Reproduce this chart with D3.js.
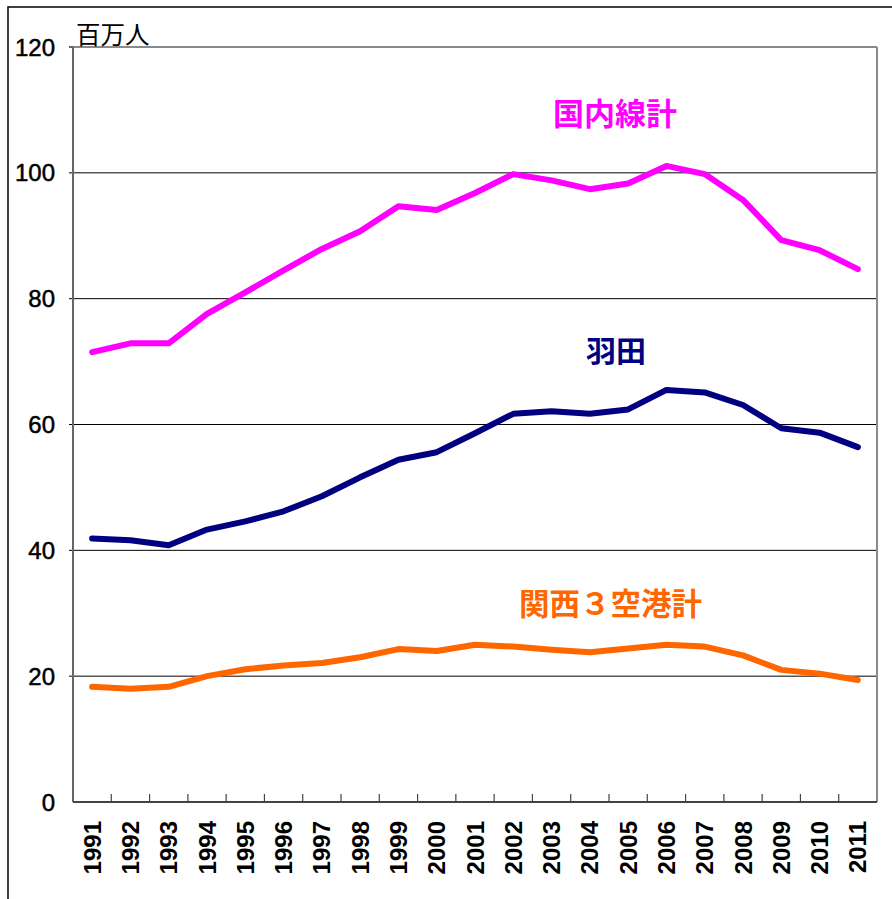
<!DOCTYPE html>
<html><head><meta charset="utf-8">
<script src="https://cdn.jsdelivr.net/npm/d3@7/dist/d3.min.js"></script>
<style>
body{margin:0;background:#fff;}
svg{display:block;}
</style></head>
<body>
<svg id="c" width="892" height="899"></svg>
<script>
const years = ["1991","1992","1993","1994","1995","1996","1997","1998","1999","2000","2001","2002","2003","2004","2005","2006","2007","2008","2009","2010","2011"];
const domestic = [71.5,72.9,72.9,77.6,81.0,84.5,87.9,90.7,94.7,94.1,96.8,99.8,98.8,97.4,98.3,101.1,99.8,95.7,89.3,87.7,84.7];
const haneda = [41.9,41.6,40.8,43.3,44.6,46.2,48.6,51.6,54.4,55.6,58.6,61.7,62.1,61.7,62.4,65.5,65.1,63.1,59.4,58.7,56.4];
const kansai = [18.3,18.0,18.3,20.0,21.1,21.7,22.1,23.0,24.3,24.0,25.0,24.7,24.2,23.8,24.4,25.0,24.7,23.3,21.0,20.4,19.4];
const yTicks = [0,20,40,60,80,100,120];
const unitLabel = "百万人";
const seriesLabels = ["国内線計","羽田","関西３空港計"];

const svg = d3.select("#c");
const L=73, R=877, T=47, B=802;
const x = d3.scaleBand().domain(years).range([L,R]);
const y = d3.scaleLinear().domain([0,120]).range([B,T]);

// outer border
svg.append("rect").attr("x",8).attr("y",7).attr("width",1000).attr("height",1000)
  .attr("fill","none").attr("stroke","#111").attr("stroke-width",1.6);

// gridlines
svg.append("g").selectAll("line").data(yTicks.filter(v=>v>0 && v<120)).join("line")
  .attr("x1",L-4).attr("x2",R).attr("y1",d=>y(d)).attr("y2",d=>y(d))
  .attr("stroke","#000").attr("stroke-width",1);

// frame
svg.append("line").attr("x1",L).attr("x2",R).attr("y1",T).attr("y2",T).attr("stroke","#8a8a8a").attr("stroke-width",2);
svg.append("line").attr("x1",R).attr("x2",R).attr("y1",T).attr("y2",B).attr("stroke","#8a8a8a").attr("stroke-width",2);
svg.append("line").attr("x1",L).attr("x2",L).attr("y1",T).attr("y2",B).attr("stroke","#666").attr("stroke-width",2);
svg.append("line").attr("x1",L-4).attr("x2",L).attr("y1",T).attr("y2",T).attr("stroke","#666").attr("stroke-width",2);
svg.append("line").attr("x1",L).attr("x2",R).attr("y1",B).attr("y2",B).attr("stroke","#444").attr("stroke-width",2);

// x ticks at boundaries
svg.append("g").selectAll("line").data(years.slice(1)).join("line")
  .attr("x1",d=>x(d)).attr("x2",d=>x(d)).attr("y1",B).attr("y2",B-8)
  .attr("stroke","#444").attr("stroke-width",1.2);

// y labels
svg.append("g").selectAll("text").data(yTicks).join("text")
  .attr("x",55).attr("y",d=>y(d)).attr("dy","0.36em").attr("text-anchor","end")
  .attr("font-family","'Liberation Sans',Arial,sans-serif").attr("font-size",24)
  .attr("stroke","#000").attr("stroke-width",0.5)
  .attr("fill","#000").text(d=>d);

// x labels
svg.append("g").selectAll("text").data(years).join("text")
  .attr("transform",d=>`translate(${x(d)+x.bandwidth()/2},821) rotate(-90)`)
  .attr("text-anchor","end").attr("dy","0.36em")
  .attr("font-family","'Liberation Sans',Arial,sans-serif").attr("font-size",24).attr("font-weight","bold")
  .attr("fill","#000").text(d=>d);

// unit label
svg.append("text").attr("x",76).attr("y",44)
  .attr("font-family","'Noto Sans CJK JP',sans-serif").attr("font-size",24.5).attr("fill","#000").text(unitLabel);

const line = d3.line().x((d,i)=>x(years[i])+x.bandwidth()/2).y(d=>y(d));
const series = [
  {vals:domestic,color:"#FF00FF"},
  {vals:haneda,color:"#000080"},
  {vals:kansai,color:"#FF6600"}
];
svg.append("g").selectAll("path").data(series).join("path")
  .attr("d",d=>line(d.vals)).attr("fill","none").attr("stroke",d=>d.color)
  .attr("stroke-width",6).attr("stroke-linejoin","round").attr("stroke-linecap","round");

// series labels
const lab = [
  {t:seriesLabels[0],x:553,y:114,s:31,c:"#FF00FF"},
  {t:seriesLabels[1],x:586,y:351,s:30,c:"#000080"},
  {t:seriesLabels[2],x:519,y:604,s:30.5,c:"#FF6600"}
];
svg.append("g").selectAll("text").data(lab).join("text")
  .attr("x",d=>d.x).attr("y",d=>d.y).attr("dy","0.36em")
  .attr("font-family","'Noto Sans CJK JP',sans-serif").attr("font-weight","bold").attr("font-size",d=>d.s)
  .attr("fill",d=>d.c).text(d=>d.t);
</script>
</body></html>
